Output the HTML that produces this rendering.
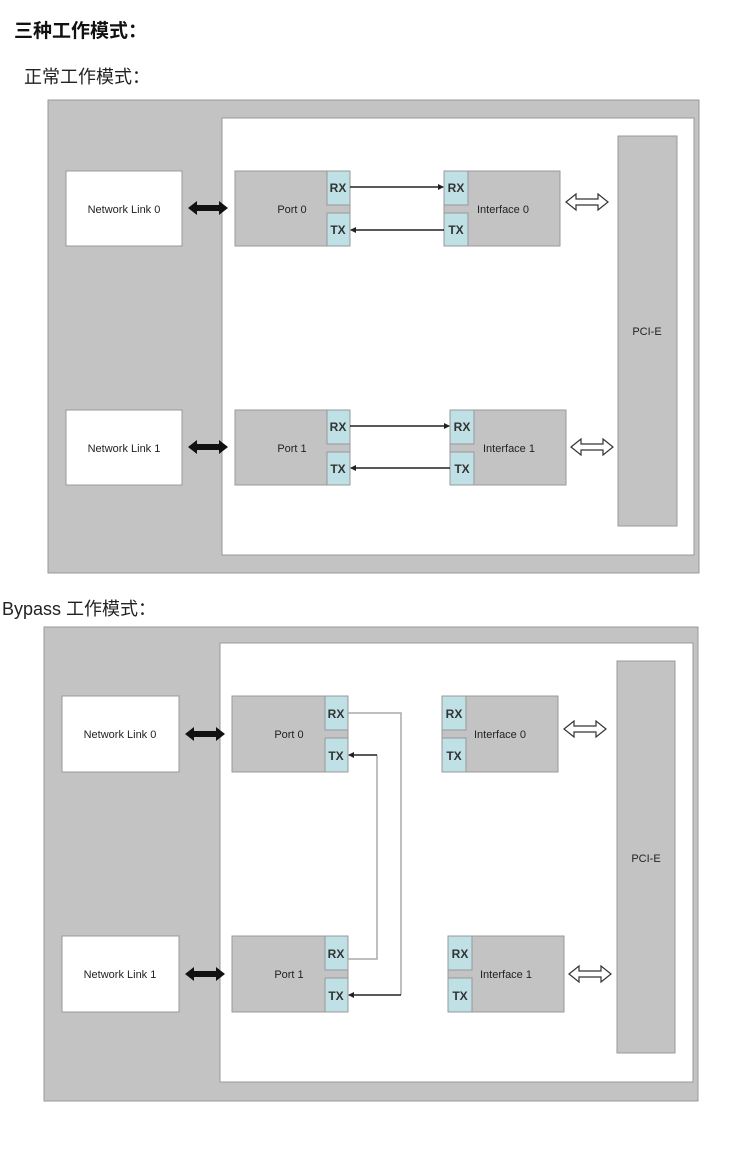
<!DOCTYPE html>
<html><head><meta charset="utf-8"><style>
body{margin:0;background:#fff;width:750px;height:1160px;overflow:hidden;font-family:"Liberation Sans","Noto Sans CJK SC",sans-serif}
svg{position:absolute;left:0;top:0}
</style></head><body>
<svg width="750" height="1160" xmlns="http://www.w3.org/2000/svg" font-family="Liberation Sans, Noto Sans CJK SC, sans-serif">
<defs>
<marker id="ah" markerWidth="6" markerHeight="6" refX="5" refY="3" orient="auto" markerUnits="userSpaceOnUse"><path d="M0,0 L6,3 L0,6 z" fill="#222"/></marker>
</defs>
<text x="14" y="37" font-size="19" font-weight="bold" fill="#111">三种工作模式：</text>
<text x="24" y="83" font-size="18" fill="#222">正常工作模式：</text>
<text x="2" y="615" font-size="18" fill="#222">Bypass 工作模式：</text>

<!-- Diagram 1 -->
<rect x="48" y="100" width="651" height="473" fill="#c3c3c3" stroke="#999"/>
<rect x="222" y="118" width="472" height="437" fill="#fff" stroke="#999"/>
<g font-size="11" fill="#222" text-anchor="middle">
<rect x="66" y="171" width="116" height="75" fill="#fff" stroke="#999"/><text x="124" y="213">Network Link 0</text>
<rect x="66" y="410" width="116" height="75" fill="#fff" stroke="#999"/><text x="124" y="452">Network Link 1</text>
<rect x="235" y="171" width="115" height="75" fill="#c3c3c3" stroke="#999"/><text x="292" y="213">Port 0</text>
<rect x="235" y="410" width="115" height="75" fill="#c3c3c3" stroke="#999"/><text x="292" y="452">Port 1</text>
<rect x="444" y="171" width="116" height="75" fill="#c3c3c3" stroke="#999"/><text x="503" y="213">Interface 0</text>
<rect x="450" y="410" width="116" height="75" fill="#c3c3c3" stroke="#999"/><text x="509" y="452">Interface 1</text>
<rect x="618" y="136" width="59" height="390" fill="#c3c3c3" stroke="#999"/><text x="647" y="335">PCI-E</text>
</g>
<g font-size="12" font-weight="bold" fill="#333" text-anchor="middle" stroke="#999">
<rect x="327" y="171" width="23" height="34" fill="#bfe0e4"/><rect x="327" y="213" width="23" height="33" fill="#bfe0e4"/>
<rect x="444" y="171" width="24" height="34" fill="#bfe0e4"/><rect x="444" y="213" width="24" height="33" fill="#bfe0e4"/>
<rect x="327" y="410" width="23" height="34" fill="#bfe0e4"/><rect x="327" y="452" width="23" height="33" fill="#bfe0e4"/>
<rect x="450" y="410" width="24" height="34" fill="#bfe0e4"/><rect x="450" y="452" width="24" height="33" fill="#bfe0e4"/>
</g>
<g font-size="12" font-weight="bold" fill="#333" text-anchor="middle">
<text x="338" y="192">RX</text><text x="338" y="234">TX</text>
<text x="456" y="192">RX</text><text x="456" y="234">TX</text>
<text x="338" y="431">RX</text><text x="338" y="473">TX</text>
<text x="462" y="431">RX</text><text x="462" y="473">TX</text>
</g>
<g stroke="#222" stroke-width="1.5" marker-end="url(#ah)">
<line x1="350" y1="187" x2="443" y2="187"/><line x1="444" y1="230" x2="351" y2="230"/>
<line x1="350" y1="426" x2="449" y2="426"/><line x1="450" y1="468" x2="351" y2="468"/>
</g>

<!-- Diagram 2 -->
<rect x="44" y="627" width="654" height="474" fill="#c3c3c3" stroke="#999"/>
<rect x="220" y="643" width="473" height="439" fill="#fff" stroke="#999"/>
<g font-size="11" fill="#222" text-anchor="middle">
<rect x="62" y="696" width="117" height="76" fill="#fff" stroke="#999"/><text x="120" y="738">Network Link 0</text>
<rect x="62" y="936" width="117" height="76" fill="#fff" stroke="#999"/><text x="120" y="978">Network Link 1</text>
<rect x="232" y="696" width="116" height="76" fill="#c3c3c3" stroke="#999"/><text x="289" y="738">Port 0</text>
<rect x="232" y="936" width="116" height="76" fill="#c3c3c3" stroke="#999"/><text x="289" y="978">Port 1</text>
<rect x="442" y="696" width="116" height="76" fill="#c3c3c3" stroke="#999"/><text x="500" y="738">Interface 0</text>
<rect x="448" y="936" width="116" height="76" fill="#c3c3c3" stroke="#999"/><text x="506" y="978">Interface 1</text>
<rect x="617" y="661" width="58" height="392" fill="#c3c3c3" stroke="#999"/><text x="646" y="862">PCI-E</text>
</g>
<g stroke="#999">
<rect x="325" y="696" width="23" height="34" fill="#bfe0e4"/><rect x="325" y="738" width="23" height="34" fill="#bfe0e4"/>
<rect x="442" y="696" width="24" height="34" fill="#bfe0e4"/><rect x="442" y="738" width="24" height="34" fill="#bfe0e4"/>
<rect x="325" y="936" width="23" height="34" fill="#bfe0e4"/><rect x="325" y="978" width="23" height="34" fill="#bfe0e4"/>
<rect x="448" y="936" width="24" height="34" fill="#bfe0e4"/><rect x="448" y="978" width="24" height="34" fill="#bfe0e4"/>
</g>
<g font-size="12" font-weight="bold" fill="#333" text-anchor="middle">
<text x="336" y="718">RX</text><text x="336" y="760">TX</text>
<text x="454" y="718">RX</text><text x="454" y="760">TX</text>
<text x="336" y="958">RX</text><text x="336" y="1000">TX</text>
<text x="460" y="958">RX</text><text x="460" y="1000">TX</text>
</g>
<g fill="none" stroke="#aaa" stroke-width="1.5">
<polyline points="348,713 401,713 401,995"/>
<polyline points="348,959 377,959 377,755"/>
</g>
<g stroke="#222" stroke-width="1.5" marker-end="url(#ah)">
<line x1="377" y1="755" x2="349" y2="755"/><line x1="401" y1="995" x2="349" y2="995"/>
</g>

<!-- black double arrows -->
<g fill="#111">
<path d="M188,208 l9,-7 v4 h22 v-4 l9,7 l-9,7 v-4 h-22 v4 z"/>
<path d="M188,447 l9,-7 v4 h22 v-4 l9,7 l-9,7 v-4 h-22 v4 z"/>
<path d="M185,734 l9,-7 v4 h22 v-4 l9,7 l-9,7 v-4 h-22 v4 z"/>
<path d="M185,974 l9,-7 v4 h22 v-4 l9,7 l-9,7 v-4 h-22 v4 z"/>
</g>
<!-- hollow arrows -->
<g fill="#fff" stroke="#333" stroke-width="1.2">
<path d="M566,202 l10,-8 v5 h22 v-5 l10,8 l-10,8 v-5 h-22 v5 z"/>
<path d="M571,447 l10,-8 v5 h22 v-5 l10,8 l-10,8 v-5 h-22 v5 z"/>
<path d="M564,729 l10,-8 v5 h22 v-5 l10,8 l-10,8 v-5 h-22 v5 z"/>
<path d="M569,974 l10,-8 v5 h22 v-5 l10,8 l-10,8 v-5 h-22 v5 z"/>
</g>
</svg>
</body></html>
